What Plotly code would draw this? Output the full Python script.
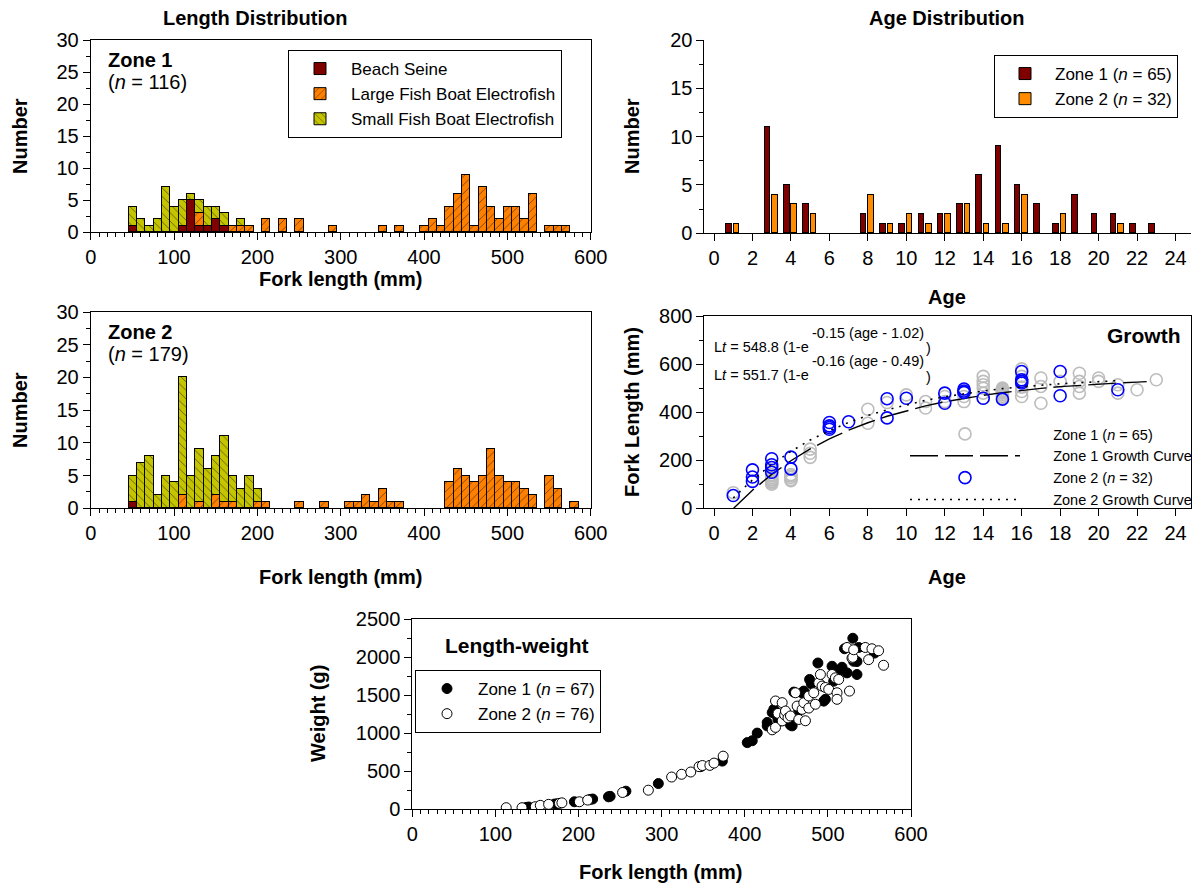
import plotly.graph_objects as go

W, H = 1202, 886
FONT = "Liberation Sans, Arial, sans-serif"


def px(x):
    return x / W


def py(y):
    return 1 - y / H


# ---- length distribution, zone 1 (bin centres in mm, counts) ----
z1_seine_x = [50, 110, 120, 130, 140, 150, 160]
z1_seine_n = [1, 1, 5, 1, 1, 2, 1]
z1_large_x = [130, 170, 180, 190, 210, 230, 250, 290, 350, 370, 400, 410, 420, 430,
              440, 450, 460, 470, 480, 490, 500, 510, 520, 530, 550, 560, 570]
z1_large_n = [2, 1, 1, 1, 2, 2, 2, 1, 1, 1, 1, 2, 1, 4,
              6, 9, 1, 7, 4, 2, 4, 4, 2, 6, 1, 1, 1]
z1_small_x = [50, 60, 70, 80, 90, 100, 110, 120, 130, 140, 150, 160, 180]
z1_small_n = [3, 2, 1, 2, 7, 4, 4, 1, 2, 3, 2, 2, 1]

# ---- length distribution, zone 2 ----
z2_seine_x = [50]
z2_seine_n = [1]
z2_large_x = [110, 130, 150, 160, 170, 200, 210, 250, 280, 310, 320, 330, 340, 350, 360,
              370, 430, 440, 450, 460, 470, 480, 490, 500, 510, 520, 530, 550, 560, 580]
z2_large_n = [2, 1, 2, 1, 1, 1, 1, 1, 1, 1, 1, 2, 1, 3, 1,
              1, 4, 6, 5, 4, 5, 9, 5, 4, 4, 3, 2, 5, 3, 1]
z2_small_x = [50, 60, 70, 80, 90, 100, 110, 120, 130, 140, 150, 160, 170, 180, 190, 200]
z2_small_n = [4, 7, 8, 2, 5, 4, 18, 5, 8, 6, 6, 10, 4, 3, 5, 2]

# ---- age distribution ----
age_z1 = [1, 3, 4, 5, 8, 9, 10, 11, 12, 13, 14, 15, 16, 17, 18, 19, 20, 21, 22, 23]
age_z1_n = [1, 11, 5, 3, 2, 1, 1, 2, 2, 3, 6, 9, 5, 3, 1, 4, 2, 2, 1, 1]
age_z2 = [1, 3, 4, 5, 8, 9, 10, 11, 12, 13, 14, 15, 16, 18, 21]
age_z2_n = [1, 4, 3, 2, 4, 1, 2, 1, 2, 3, 1, 1, 4, 2, 1]

# ---- growth: age vs fork length ----
gr_z1_age = [1, 3, 3, 3, 3, 3, 3, 3, 3, 3, 3, 3, 4, 4, 4, 4, 4, 5, 5, 5, 8, 8, 9, 10,
             11, 11, 12, 12, 13, 13, 13, 14, 14, 14, 14, 14, 14,
             15, 15, 15, 15, 15, 15, 15, 15, 15, 16, 16, 16, 16, 16,
             17, 17, 17, 18, 19, 19, 19, 19, 20, 20, 21, 21, 22, 23]
gr_z1_fl = [65, 100, 105, 110, 112, 118, 122, 128, 135, 140, 150, 160, 115, 120, 128, 135, 140,
            212, 229, 246, 354, 412, 440, 472, 417, 444, 444, 465, 444, 465, 482,
            458, 479, 500, 514, 528, 549, 460, 465, 472, 479, 482, 486, 490, 495, 500,
            465, 486, 504, 549, 580, 437, 507, 542, 528, 479, 507, 528, 562, 528, 542,
            479, 514, 493, 535]
gr_z2_age = [1, 2, 2, 2, 3, 3, 3, 3, 4, 4, 6, 6, 6, 6, 7, 9, 9, 10, 12, 12, 13, 13, 13,
             14, 15, 16, 16, 16, 16, 18, 18, 21]
gr_z2_fl = [53, 112, 130, 160, 150, 170, 181, 206, 164, 213, 329, 336, 343, 357, 360,
            376, 456, 458, 437, 479, 482, 488, 496, 458, 454, 521, 528, 535, 569,
            468, 569, 493]

# fitted curves as drawn on the chart (age, fork length)
curve_z1_age = [1.02, 2, 3, 4, 5, 6, 7, 8, 9, 10, 11, 12, 13, 14, 15, 16, 17, 18, 19, 20, 21, 22, 22.5]
curve_z1_fl = [0, 75, 141, 198, 247, 289, 325, 356, 383, 406, 426, 443, 458, 470, 481,
               491, 499, 506, 512, 517, 521, 525, 527]
curve_z2_age = [1, 2, 3, 4, 5, 6, 7, 8, 9, 10, 11, 12, 13, 14, 15, 16, 17, 18, 19, 20, 21]
curve_z2_fl = [43, 118, 182, 237, 284, 323, 357, 386, 410, 431, 449, 464, 477, 488, 498,
               506, 512, 518, 523, 527, 531]

# ---- length-weight ----
lw_z1_fl = [137, 140, 171, 174, 195, 214, 217, 236, 238, 257, 296, 347, 373, 403, 409, 415,
            427, 427, 433, 435, 437, 440, 444, 455, 457, 459, 465, 469, 471, 478, 480, 488,
            495, 497, 505, 507, 510, 513, 517, 520, 523, 530, 531, 535, 535, 537, 556]
lw_z1_wt = [25, 30, 69, 72, 99, 130, 135, 164, 170, 238, 338, 560, 633, 876, 901, 1001,
            1096, 1141, 1271, 1315, 1250, 1180, 1163, 1107, 1096, 1540, 1300, 1530, 1553, 1706, 1650, 1922,
            1421, 1445, 1879, 1683, 1750, 1823, 1866, 2109, 1792, 2247, 1944, 1771, 1941, 2126, 2052]
lw_z2_fl = [113, 132, 148, 154, 164, 177, 180, 201, 211, 253, 284, 312, 324, 335, 345, 349,
            358, 363, 374, 433, 437, 437, 440, 445, 445, 448, 449, 452, 455, 461, 463, 465,
            469, 471, 473, 477, 477, 483, 485, 489, 491, 493, 497, 501, 505, 509, 511, 511,
            513, 523, 526, 529, 530, 531, 545, 549, 553, 561, 567]
lw_z2_wt = [21, 21, 34, 52, 65, 78, 85, 99, 121, 221, 251, 424, 460, 490, 560, 575,
            577, 607, 698, 1044, 1076, 1423, 1260, 1401, 1161, 1240, 1291, 1200, 1226, 1531, 1356, 1180,
            1313, 1400, 1163, 1488, 1330, 1531, 1380, 1662, 1771, 1619, 1600, 1575, 1771, 1727, 1531, 1445,
            1706, 2126, 1553, 1985, 1996, 2096, 2126, 1966, 2109, 2083, 1892]

C_SEINE = "#800000"
C_LARGE = "#ff8000"
C_SMALL = "#c4c400"
C_Z1 = "#800000"
C_Z2 = "#ff8c00"

fig = go.Figure()


def hist_bar(x, y, color, shape, name, xa, ya, show, legend="legend"):
    pattern = dict(shape=shape, fgcolor="black", size=6, solidity=0.15) if shape else None
    fig.add_trace(go.Bar(
        x=x, y=y, width=10, name=name, xaxis=xa, yaxis=ya,
        marker=dict(color=color, line=dict(color="black", width=1), pattern=pattern),
        showlegend=show, legend=legend, legendgroup=name,
    ))


hist_bar(z1_seine_x, z1_seine_n, C_SEINE, "", "Beach Seine", "x", "y", True)
hist_bar(z1_large_x, z1_large_n, C_LARGE, "/", "Large Fish Boat Electrofish", "x", "y", True)
hist_bar(z1_small_x, z1_small_n, C_SMALL, "\\", "Small Fish Boat Electrofish", "x", "y", True)
hist_bar(z2_seine_x, z2_seine_n, C_SEINE, "", "Beach Seine", "x2", "y2", False)
hist_bar(z2_large_x, z2_large_n, C_LARGE, "/", "Large Fish Boat Electrofish", "x2", "y2", False)
hist_bar(z2_small_x, z2_small_n, C_SMALL, "\\", "Small Fish Boat Electrofish", "x2", "y2", False)

fig.add_trace(go.Bar(
    x=age_z1, y=age_z1_n, width=0.29, offset=-0.34, name="Zone 1 (<i>n</i> = 65)",
    xaxis="x3", yaxis="y3", marker=dict(color=C_Z1, line=dict(color="black", width=1)),
    legend="legend2",
))
fig.add_trace(go.Bar(
    x=age_z2, y=age_z2_n, width=0.29, offset=0.05, name="Zone 2 (<i>n</i> = 32)",
    xaxis="x6", yaxis="y3", marker=dict(color=C_Z2, line=dict(color="black", width=1)),
    legend="legend2",
))

gap = "\u00a0" * 7  # room between the long legend symbols and their labels
fig.add_trace(go.Scatter(
    x=gr_z1_age, y=gr_z1_fl, mode="markers", name=gap + "Zone 1 (<i>n</i> = 65)",
    xaxis="x4", yaxis="y4", legend="legend3",
    marker=dict(symbol="circle-open", size=12, color="#bdbdbd", line=dict(width=1.6)),
))
fig.add_trace(go.Scatter(
    x=curve_z1_age, y=curve_z1_fl, mode="lines", name=gap + "Zone 1 Growth Curve",
    xaxis="x4", yaxis="y4", legend="legend3",
    line=dict(color="black", width=1.4, dash="28px,7px"),
))
fig.add_trace(go.Scatter(
    x=gr_z2_age, y=gr_z2_fl, mode="markers", name=gap + "Zone 2 (<i>n</i> = 32)",
    xaxis="x4", yaxis="y4", legend="legend3",
    marker=dict(symbol="circle-open", size=12, color="#0000ff", line=dict(width=1.6)),
))
fig.add_trace(go.Scatter(
    x=curve_z2_age, y=curve_z2_fl, mode="lines", name=gap + "Zone 2 Growth Curve",
    xaxis="x4", yaxis="y4", legend="legend3",
    line=dict(color="black", width=1.6, dash="2px,6px"),
))

fig.add_trace(go.Scatter(
    x=lw_z1_fl, y=lw_z1_wt, mode="markers", name="Zone 1 (<i>n</i> = 67)",
    xaxis="x5", yaxis="y5", legend="legend4",
    marker=dict(symbol="circle", size=10, color="black", line=dict(color="black", width=1)),
))
fig.add_trace(go.Scatter(
    x=lw_z2_fl, y=lw_z2_wt, mode="markers", name="Zone 2 (<i>n</i> = 76)",
    xaxis="x5", yaxis="y5", legend="legend4",
    marker=dict(symbol="circle", size=10, color="white", line=dict(color="black", width=1)),
))


def axis(domain, rng, dtick, minor=None, mirror=True, anchor=None, ticklen=7):
    d = dict(
        domain=domain, range=rng, dtick=dtick, tick0=0, showline=True, linecolor="black",
        linewidth=1, ticks="outside", ticklen=ticklen, tickcolor="black", showgrid=False,
        zeroline=False, mirror=mirror, anchor=anchor, fixedrange=True, automargin=False,
        tickfont=dict(family=FONT, size=20, color="black"),
    )
    if minor:
        d["minor"] = dict(dtick=minor, ticklen=4, ticks="outside", tickcolor="black", showgrid=False)
    return d


legend_font = dict(family=FONT, size=17, color="black")

fig.update_layout(
    width=W, height=H, margin=dict(l=0, r=0, t=0, b=0, autoexpand=False),
    paper_bgcolor="white", plot_bgcolor="white", barmode="stack", bargap=0,
    font=dict(family=FONT, color="black"),
    xaxis=axis([px(90.7), px(590.7)], [0, 600], 100, 10, anchor="y"),
    yaxis=axis([py(232.3), py(40)], [0, 30], 5, 2.5, anchor="x"),
    xaxis2=axis([px(90.7), px(590.7)], [0, 600], 100, 10, anchor="y2"),
    yaxis2=axis([py(508.3), py(312)], [0, 30], 5, 2.5, anchor="x2"),
    xaxis3=axis([px(704.4), px(1190.9)], [-0.5, 24.8], 2, mirror=False, anchor="y3"),
    yaxis3=axis([py(233.3), py(40)], [0, 20], 5, 2.5, mirror=False, anchor="x3"),
    xaxis6=dict(overlaying="x3", matches="x3", visible=False, anchor="y3"),
    xaxis4=axis([px(704.4), px(1190.9)], [-0.5, 24.8], 2, anchor="y4"),
    yaxis4=axis([py(508.3), py(316)], [0, 800], 200, 100, anchor="x4"),
    xaxis5=axis([px(412.3), px(911)], [0, 600], 100, 10, anchor="y5"),
    yaxis5=axis([py(809.3), py(619)], [0, 2500], 500, 250, anchor="x5"),
    legend=dict(x=px(288), y=py(50), xanchor="left", yanchor="top", bordercolor="black",
                borderwidth=1, font=legend_font, traceorder="normal", bgcolor="white",
                itemwidth=52),
    legend2=dict(x=px(994), y=py(55), xanchor="left", yanchor="top", bordercolor="black",
                 borderwidth=1, font=legend_font, traceorder="normal", bgcolor="white",
                 itemwidth=50),
    legend3=dict(x=px(905), y=py(418), xanchor="left", yanchor="top", borderwidth=0,
                 font=dict(family=FONT, size=14.5, color="black"), itemwidth=110,
                 traceorder="normal", bgcolor="rgba(0,0,0,0)"),
    legend4=dict(x=px(415), y=py(670), xanchor="left", yanchor="top", bordercolor="black",
                 borderwidth=1, font=legend_font, traceorder="normal", bgcolor="white",
                 itemwidth=52),
)


def note(text, x, y, size=20, bold=False, xanchor="center", angle=0):
    if bold:
        text = "<b>" + text + "</b>"
    fig.add_annotation(text=text, x=px(x), y=py(y), xref="paper", yref="paper",
                       xanchor=xanchor, yanchor="middle", showarrow=False, textangle=angle,
                       font=dict(family=FONT, size=size, color="black"))


note("Length Distribution", 255, 18, 20, True)
note("Age Distribution", 947, 18, 20, True)
note("Zone 1", 106, 60, 20, True, "left")
note("(<i>n</i> = 116)", 106, 82, 20, False, "left")
note("Zone 2", 106, 332, 20, True, "left")
note("(<i>n</i> = 179)", 106, 354, 20, False, "left")
note("Number", 20, 136, 20, True, angle=-90)
note("Number", 20, 410, 20, True, angle=-90)
note("Number", 632, 136, 20, True, angle=-90)
note("Fork Length (mm)", 632, 412, 20, True, angle=-90)
note("Weight (g)", 318, 714, 20, True, angle=-90)
note("Fork length (mm)", 340, 279, 20, True)
note("Fork length (mm)", 340, 577, 20, True)
note("Age", 947, 297, 20, True)
note("Age", 947, 577, 20, True)
note("Fork length (mm)", 660, 872, 20, True)
note("Growth", 1183, 335, 21, True, "right")
note("Length-weight", 443, 645, 21, True, "left")
note("L<i>t</i> = 548.8 (1-e", 712, 347, 14.5, False, "left")
note("-0.15 (age - 1.02)", 810, 333, 14.5, False, "left")
note(")", 924, 348, 14.5, False, "left")
note("L<i>t</i> = 551.7 (1-e", 712, 375, 14.5, False, "left")
note("-0.16 (age - 0.49)", 810, 361, 14.5, False, "left")
note(")", 924, 377, 14.5, False, "left")

# pin the figure to the top-left corner of the page so nothing scrolls
pin = (
    "var gd = document.getElementById('{plot_id}');"
    "document.body.style.margin = '0';"
    "document.documentElement.style.overflow = 'hidden';"
    "gd.style.position = 'fixed'; gd.style.left = '0px'; gd.style.top = '0px';"
)
fig.write_html("out.html", post_script=pin, config={"displayModeBar": False})
